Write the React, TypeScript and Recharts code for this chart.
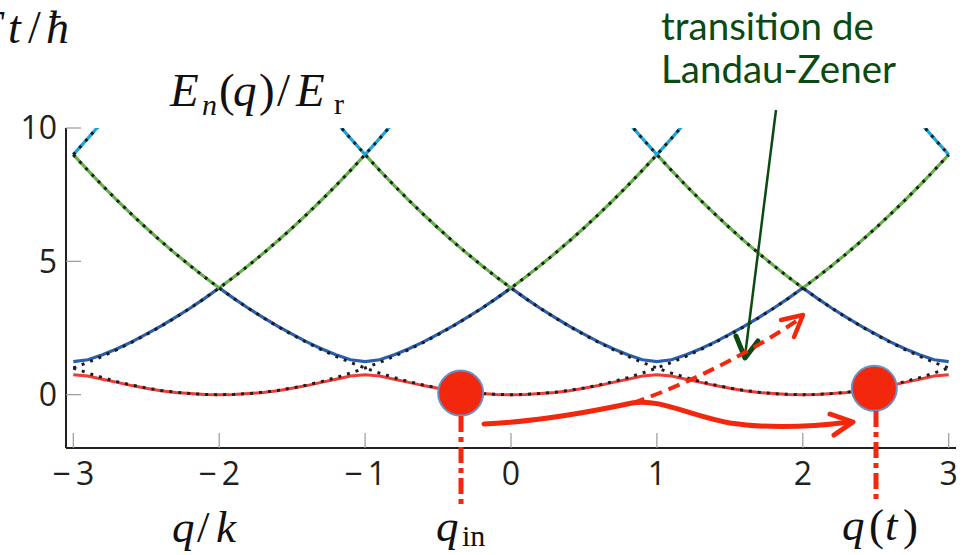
import { LineChart, Line, XAxis, YAxis, ReferenceDot } from 'recharts';

// quasi-momentum q/k, sampled every 0.1
const qValues = [
  -3.0, -2.9, -2.8, -2.7, -2.6, -2.5, -2.4, -2.3, -2.2, -2.1, -2.0,
  -1.9, -1.8, -1.7, -1.6, -1.5, -1.4, -1.3, -1.2, -1.1, -1.0,
  -0.9, -0.8, -0.7, -0.6, -0.5, -0.4, -0.3, -0.2, -0.1, 0.0,
  0.1, 0.2, 0.3, 0.4, 0.5, 0.6, 0.7, 0.8, 0.9, 1.0,
  1.1, 1.2, 1.3, 1.4, 1.5, 1.6, 1.7, 1.8, 1.9, 2.0,
  2.1, 2.2, 2.3, 2.4, 2.5, 2.6, 2.7, 2.8, 2.9, 3.0,
];

// Bloch bands E_n(q)/E_r
const lowestBand = [
  0.75, 0.70, 0.58, 0.46, 0.34, 0.24, 0.15, 0.08, 0.04, 0.01, 0.00,
  0.01, 0.04, 0.08, 0.15, 0.24, 0.34, 0.46, 0.58, 0.70, 0.75,
  0.70, 0.58, 0.46, 0.34, 0.24, 0.15, 0.08, 0.04, 0.01, 0.00,
  0.01, 0.04, 0.08, 0.15, 0.24, 0.34, 0.46, 0.58, 0.70, 0.75,
  0.70, 0.58, 0.46, 0.34, 0.24, 0.15, 0.08, 0.04, 0.01, 0.00,
  0.01, 0.04, 0.08, 0.15, 0.24, 0.34, 0.46, 0.58, 0.70, 0.75,
];
const secondBand = [
  1.24, 1.31, 1.50, 1.72, 1.98, 2.27, 2.57, 2.90, 3.24, 3.61, 4.00,
  3.61, 3.24, 2.90, 2.57, 2.27, 1.98, 1.72, 1.50, 1.31, 1.24,
  1.31, 1.50, 1.72, 1.98, 2.27, 2.57, 2.90, 3.24, 3.61, 4.00,
  3.61, 3.24, 2.90, 2.57, 2.27, 1.98, 1.72, 1.50, 1.31, 1.24,
  1.31, 1.50, 1.72, 1.98, 2.27, 2.57, 2.90, 3.24, 3.61, 4.00,
  3.61, 3.24, 2.90, 2.57, 2.27, 1.98, 1.72, 1.50, 1.31, 1.24,
];
const thirdBand = [
  9.00, 8.41, 7.84, 7.29, 6.76, 6.25, 5.76, 5.29, 4.84, 4.41, 4.00,
  4.41, 4.84, 5.29, 5.76, 6.25, 6.76, 7.29, 7.84, 8.41, 9.00,
  8.41, 7.84, 7.29, 6.76, 6.25, 5.76, 5.29, 4.84, 4.41, 4.00,
  4.41, 4.84, 5.29, 5.76, 6.25, 6.76, 7.29, 7.84, 8.41, 9.00,
  8.41, 7.84, 7.29, 6.76, 6.25, 5.76, 5.29, 4.84, 4.41, 4.00,
  4.41, 4.84, 5.29, 5.76, 6.25, 6.76, 7.29, 7.84, 8.41, 9.00,
];
// fourth band only shows near odd q (start = index into qValues)
const fourthBandPieces = [
  { start: 0, values: [9.00, 9.61, 10.24] },
  { start: 18, values: [10.24, 9.61, 9.00, 9.61, 10.24] },
  { start: 38, values: [10.24, 9.61, 9.00, 9.61, 10.24] },
  { start: 58, values: [10.24, 9.61, 9.00] },
];

// free particle parabolas (q - 2j k)^2, dotted
const freeCenterM6 = [9.00, 9.61, 10.24];
const freeCenterM4 = [
  1.00, 1.21, 1.44, 1.69, 1.96, 2.25, 2.56, 2.89, 3.24, 3.61, 4.00, 4.41,
  4.84, 5.29, 5.76, 6.25, 6.76, 7.29, 7.84, 8.41, 9.00, 9.61, 10.24,
];
const freeCenterM2 = [
  1.00, 0.81, 0.64, 0.49, 0.36, 0.25, 0.16, 0.09, 0.04, 0.01, 0.00,
  0.01, 0.04, 0.09, 0.16, 0.25, 0.36, 0.49, 0.64, 0.81, 1.00, 1.21,
  1.44, 1.69, 1.96, 2.25, 2.56, 2.89, 3.24, 3.61, 4.00, 4.41, 4.84,
  5.29, 5.76, 6.25, 6.76, 7.29, 7.84, 8.41, 9.00, 9.61, 10.24,
];
const freeCenter0 = [
  9.00, 8.41, 7.84, 7.29, 6.76, 6.25, 5.76, 5.29, 4.84, 4.41, 4.00,
  3.61, 3.24, 2.89, 2.56, 2.25, 1.96, 1.69, 1.44, 1.21, 1.00,
  0.81, 0.64, 0.49, 0.36, 0.25, 0.16, 0.09, 0.04, 0.01, 0.00,
  0.01, 0.04, 0.09, 0.16, 0.25, 0.36, 0.49, 0.64, 0.81, 1.00,
  1.21, 1.44, 1.69, 1.96, 2.25, 2.56, 2.89, 3.24, 3.61, 4.00,
  4.41, 4.84, 5.29, 5.76, 6.25, 6.76, 7.29, 7.84, 8.41, 9.00,
];
const freeCenterP2 = [
  10.24, 9.61, 9.00, 8.41, 7.84, 7.29, 6.76, 6.25, 5.76, 5.29, 4.84,
  4.41, 4.00, 3.61, 3.24, 2.89, 2.56, 2.25, 1.96, 1.69, 1.44, 1.21,
  1.00, 0.81, 0.64, 0.49, 0.36, 0.25, 0.16, 0.09, 0.04, 0.01, 0.00,
  0.01, 0.04, 0.09, 0.16, 0.25, 0.36, 0.49, 0.64, 0.81, 1.00,
];
const freeCenterP4 = [
  10.24, 9.61, 9.00, 8.41, 7.84, 7.29, 6.76, 6.25, 5.76, 5.29, 4.84, 4.41,
  4.00, 3.61, 3.24, 2.89, 2.56, 2.25, 1.96, 1.69, 1.44, 1.21, 1.00,
];
const freeCenterP6 = [10.24, 9.61, 9.00];

const freeParabolas = [
  { start: 0, values: freeCenterM6 },
  { start: 0, values: freeCenterM4 },
  { start: 0, values: freeCenterM2 },
  { start: 0, values: freeCenter0 },
  { start: 18, values: freeCenterP2 },
  { start: 38, values: freeCenterP4 },
  { start: 58, values: freeCenterP6 },
];

// atoms on the lowest band: initial and current quasi-momentum
const atomQ = [-0.345, 2.49];
const atomE = [0.06, 0.24];

const xTicks = [-3, -2, -1, 0, 1, 2, 3];
const yTicks = [0, 5, 10];

const bandTable = qValues.map((q, i) => ({
  q,
  band0: lowestBand[i],
  band1: secondBand[i],
  band2: thirdBand[i],
}));

const piece = (start: number, values: number[]) =>
  values.map((e, i) => ({ q: qValues[start + i], e }));

const RED = '#f2270c';
const DARK_GREEN = '#0b4a12';
const tickFont = { fontSize: 32, fontFamily: 'Open Sans', fill: '#231f20' };
const axisLine = { stroke: '#231f20', strokeWidth: 2 };
const tickLine = { stroke: '#9a9a9a', strokeWidth: 1.2 };
const fmtQ = (v: number) => (v < 0 ? `\u2212\u2009${-v}` : `${v}`);

const mathFont = 'Liberation Serif';

const App = () => {
  return (
    <div style={{ position: 'absolute', left: 0, top: 0, width: 969, height: 555, background: '#fff', overflow: 'hidden' }}>
      <LineChart
        width={969}
        height={555}
        data={bandTable}
        margin={{ top: 128, right: 13, bottom: 77, left: 6 }}
      >
        <XAxis
          dataKey="q"
          type="number"
          domain={[-3.05, 3.05]}
          allowDataOverflow
          ticks={xTicks}
          tickFormatter={fmtQ}
          height={30}
          tickSize={-15}
          tickMargin={29}
          tick={tickFont}
          axisLine={axisLine}
          tickLine={tickLine}
        />
        <XAxis
          xAxisId="top"
          orientation="top"
          dataKey="q"
          type="number"
          domain={[-3.05, 3.05]}
          allowDataOverflow
          ticks={xTicks}
          height={0}
          tickSize={-15}
          tick={false}
          axisLine={axisLine}
          tickLine={tickLine}
        />
        <YAxis
          type="number"
          domain={[-2, 10]}
          allowDataOverflow
          ticks={yTicks}
          width={60}
          tickSize={-15}
          tickMargin={24}
          tick={tickFont}
          axisLine={axisLine}
          tickLine={tickLine}
        />
        <YAxis
          yAxisId="right"
          orientation="right"
          type="number"
          domain={[-2, 10]}
          allowDataOverflow
          ticks={yTicks}
          width={0}
          tickSize={-15}
          tick={false}
          axisLine={axisLine}
          tickLine={tickLine}
        />

        <Line type="linear" dataKey="band0" stroke="#ee3b35" strokeWidth={3} dot={false} isAnimationActive={false} />
        <Line type="linear" dataKey="band1" stroke="#2a5fae" strokeWidth={3.2} dot={false} isAnimationActive={false} />
        <Line type="linear" dataKey="band2" stroke="#63b446" strokeWidth={3.2} dot={false} isAnimationActive={false} />
        {fourthBandPieces.map((p, k) => (
          <Line
            key={`cyan-${k}`}
            data={piece(p.start, p.values)}
            type="linear"
            dataKey="e"
            stroke="#17a8e0"
            strokeWidth={3.2}
            dot={false}
            isAnimationActive={false}
          />
        ))}
        {freeParabolas.map((p, k) => (
          <Line
            key={`free-${k}`}
            data={piece(p.start, p.values)}
            type="linear"
            dataKey="e"
            stroke="#1e1e1e"
            strokeWidth={3}
            strokeDasharray="3 6"
            dot={false}
            isAnimationActive={false}
          />
        ))}

        {atomQ.map((q, k) => (
          <ReferenceDot
            key={`atom-${k}`}
            x={q}
            y={atomE[k]}
            r={22.5}
            fill={RED}
            stroke="#6b8fc7"
            strokeWidth={2}
            ifOverflow="visible"
          />
        ))}
      </LineChart>

      <svg
        width={969}
        height={555}
        style={{ position: 'absolute', left: 0, top: 0, pointerEvents: 'none' }}
      >
        {/* axis / annotation labels */}
        <text y={43} fontFamily={mathFont} fontSize={46} fill="#111">
          <tspan x={-24} fontStyle="italic">F</tspan>
          <tspan x={8} fontStyle="italic">t</tspan>
          <tspan x={28}>/</tspan>
          <tspan x={46} fontStyle="italic">ħ</tspan>
        </text>
        <text y={106} fontFamily={mathFont} fontSize={47} fill="#111">
          <tspan x={170} fontStyle="italic">E</tspan>
          <tspan x={202} dy={9} fontSize={30} fontStyle="italic">n</tspan>
          <tspan x={219} dy={-9}>(</tspan>
          <tspan x={233} fontStyle="italic">q</tspan>
          <tspan x={259}>)</tspan>
          <tspan x={277}>/</tspan>
          <tspan x={296} fontStyle="italic">E</tspan>
          <tspan x={334} dy={8} fontSize={30}>r</tspan>
        </text>
        <text y={542} fontFamily={mathFont} fontSize={45} fill="#111">
          <tspan x={172} fontStyle="italic">q</tspan>
          <tspan x={197}>/</tspan>
          <tspan x={216} fontStyle="italic">k</tspan>
        </text>
        <text y={541} fontFamily={mathFont} fontSize={45} fill="#111">
          <tspan x={436} fontStyle="italic">q</tspan>
          <tspan x={462} dy={5} fontSize={30}>in</tspan>
        </text>
        <text y={540} fontFamily={mathFont} fontSize={45} fill="#111">
          <tspan x={842} fontStyle="italic">q</tspan>
          <tspan x={869}>(</tspan>
          <tspan x={885} fontStyle="italic">t</tspan>
          <tspan x={903}>)</tspan>
        </text>
        <text fontFamily="Lato" fontSize={38.5} fill={DARK_GREEN}>
          <tspan x={661} y={40}>transition de</tspan>
          <tspan x={661} y={83}>Landau-Zener</tspan>
        </text>

        {/* green pointer */}
        <line x1={776} y1={110} x2={745} y2={356} stroke={DARK_GREEN} strokeWidth={2.5} />
        <polyline points="736,336 745,358 758,341" fill="none" stroke={DARK_GREEN} strokeWidth={5} strokeLinecap="round" strokeLinejoin="round" />

        {/* Bloch oscillation path */}
        <path
          d="M484,424 C530,422 590,412 632,403 C660,398 690,416 730,423 C770,429 810,427 850,422"
          fill="none"
          stroke={RED}
          strokeWidth={5}
          strokeLinecap="round"
        />
        <polyline points="830,414 853,422 834,435" fill="none" stroke={RED} strokeWidth={5} strokeLinecap="round" strokeLinejoin="round" />

        {/* Landau-Zener escape */}
        <path d="M633,403 Q720,372 798,320" fill="none" stroke={RED} strokeWidth={4} strokeDasharray="12 7" />
        <polyline points="781,320 803,315 794,337" fill="none" stroke={RED} strokeWidth={4.5} strokeLinecap="round" strokeLinejoin="round" />

        {/* dropped markers to the q labels */}
        <line x1={461} y1={416} x2={461} y2={505} stroke={RED} strokeWidth={5} strokeDasharray="16 5 5 5" />
        <line x1={876} y1={411} x2={876} y2={500} stroke={RED} strokeWidth={5} strokeDasharray="16 5 5 5" />
      </svg>
    </div>
  );
};

export default App;
